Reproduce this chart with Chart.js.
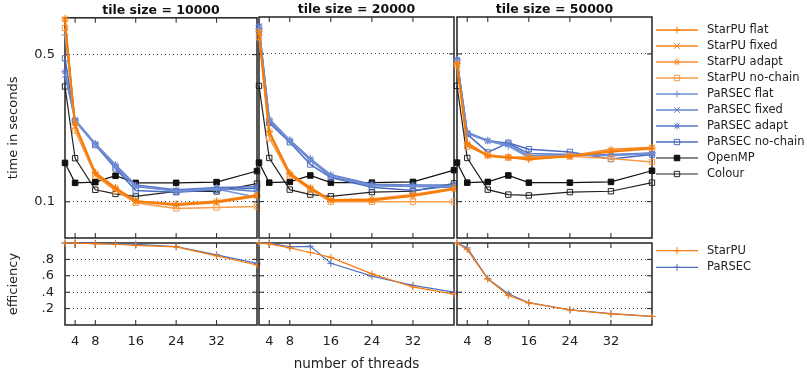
<!DOCTYPE html>
<html>
<head>
<meta charset="utf-8">
<script src="https://cdn.jsdelivr.net/npm/chart.js@4.4.0/dist/chart.umd.min.js"></script>
<style>
  body { margin: 0; background: #fff; }
  #wrap { position: relative; width: 807px; height: 377px; }
  #wrap canvas { position: absolute; left: 0; top: 0; }
</style>
</head>
<body>
<div id="wrap"></div>
<script>
// ---- data ----
const threads = [2, 4, 8, 12, 16, 24, 32, 40];
const tileSizes = ['10000', '20000', '50000'];
const xTicks = [4, 8, 16, 24, 32];
const timeTicks = [0.1, 0.5];
const timeTickLabels = ['0.1', '0.5'];
const effTicks = [0.2, 0.4, 0.6, 0.8];
const effTickLabels = ['.2', '.4', '.6', '.8'];

// time in seconds, one row per tile size
const starpuFlat = [
    [0.745, 0.232, 0.137, 0.116, 0.101, 0.097, 0.100, 0.107],
    [0.62, 0.214, 0.136, 0.116, 0.102, 0.102, 0.107, 0.115],
    [0.45, 0.190, 0.165, 0.162, 0.158, 0.164, 0.172, 0.178]
];
const starpuFixed = [
    [0.74, 0.228, 0.135, 0.115, 0.100, 0.096, 0.099, 0.106],
    [0.63, 0.210, 0.134, 0.115, 0.101, 0.101, 0.106, 0.114],
    [0.44, 0.185, 0.164, 0.161, 0.160, 0.163, 0.174, 0.180]
];
const starpuAdapt = [
    [0.73, 0.235, 0.138, 0.117, 0.101, 0.098, 0.101, 0.108],
    [0.64, 0.216, 0.137, 0.117, 0.102, 0.103, 0.108, 0.116],
    [0.45, 0.188, 0.166, 0.163, 0.161, 0.165, 0.177, 0.181]
];
const starpuNoChain = [
    [0.67, 0.218, 0.133, 0.113, 0.099, 0.093, 0.094, 0.095],
    [0.60, 0.200, 0.133, 0.114, 0.100, 0.100, 0.100, 0.100],
    [0.443, 0.182, 0.167, 0.162, 0.163, 0.164, 0.160, 0.154]
];
const parsecFlat = [
    [0.62, 0.244, 0.188, 0.148, 0.119, 0.112, 0.115, 0.105],
    [0.66, 0.244, 0.195, 0.159, 0.133, 0.120, 0.119, 0.118],
    [0.47, 0.212, 0.194, 0.183, 0.162, 0.167, 0.165, 0.170]
];
const parsecFixed = [
    [0.40, 0.243, 0.187, 0.146, 0.118, 0.113, 0.116, 0.112],
    [0.67, 0.240, 0.193, 0.157, 0.131, 0.119, 0.118, 0.117],
    [0.468, 0.210, 0.193, 0.186, 0.165, 0.166, 0.166, 0.168]
];
const parsecAdapt = [
    [0.415, 0.245, 0.189, 0.150, 0.120, 0.114, 0.117, 0.118],
    [0.68, 0.246, 0.196, 0.160, 0.134, 0.121, 0.120, 0.120],
    [0.47, 0.213, 0.195, 0.189, 0.169, 0.167, 0.167, 0.170]
];
const parsecNoChain = [
    [0.48, 0.242, 0.186, 0.144, 0.113, 0.111, 0.114, 0.116],
    [0.65, 0.236, 0.191, 0.150, 0.130, 0.117, 0.113, 0.119],
    [0.465, 0.209, 0.171, 0.190, 0.177, 0.172, 0.159, 0.167]
];
const openmp = [
    [0.153, 0.123, 0.124, 0.133, 0.123, 0.123, 0.124, 0.140],
    [0.153, 0.123, 0.124, 0.133, 0.123, 0.123, 0.124, 0.141],
    [0.153, 0.123, 0.124, 0.133, 0.123, 0.123, 0.124, 0.140]
];
const colour = [
    [0.353, 0.161, 0.114, 0.109, 0.106, 0.112, 0.112, 0.122],
    [0.353, 0.161, 0.114, 0.108, 0.106, 0.111, 0.112, 0.122],
    [0.353, 0.161, 0.114, 0.108, 0.107, 0.111, 0.112, 0.123]
];

// parallel efficiency
const effStarpu = [
    [1.0, 1.0, 0.99, 0.985, 0.972, 0.952, 0.844, 0.732],
    [1.0, 0.99, 0.94, 0.884, 0.824, 0.624, 0.464, 0.376],
    [1.0, 0.92, 0.56, 0.36, 0.27, 0.184, 0.136, 0.104]
];
const effParsec = [
    [1.0, 1.0, 0.995, 0.99, 0.985, 0.955, 0.856, 0.752],
    [1.0, 1.0, 0.952, 0.96, 0.752, 0.596, 0.484, 0.40],
    [1.0, 0.94, 0.565, 0.38, 0.272, 0.184, 0.138, 0.104]
];

// ---- styles ----
const FONT = 'DejaVu Sans';
Chart.defaults.font.family = FONT;
Chart.defaults.color = '#222';

const timeSeries = [
    { label: 'StarPU flat', data: starpuFlat, color: '#f57c00', style: 'cross', r: 3.5, fill: false, w: 1.5 },
    { label: 'StarPU fixed', data: starpuFixed, color: '#f5821a', style: 'crossRot', r: 4, fill: false, w: 1.5 },
    { label: 'StarPU adapt', data: starpuAdapt, color: '#f78d2f', style: 'star', r: 3.5, fill: false, w: 1.5 },
    { label: 'StarPU no-chain', data: starpuNoChain, color: '#f79b48', style: 'rect', r: 3.8, fill: false, w: 1.5 },
    { label: 'PaRSEC flat', data: parsecFlat, color: '#7290d4', style: 'cross', r: 3.5, fill: false, w: 1.5 },
    { label: 'PaRSEC fixed', data: parsecFixed, color: '#6585cf', style: 'crossRot', r: 4, fill: false, w: 1.5 },
    { label: 'PaRSEC adapt', data: parsecAdapt, color: '#5877c8', style: 'star', r: 3.5, fill: false, w: 1.5 },
    { label: 'PaRSEC no-chain', data: parsecNoChain, color: '#4a6bc2', style: 'rect', r: 3.8, fill: false, w: 1.5 },
    { label: 'OpenMP', data: openmp, color: '#111111', style: 'rect', r: 3.9, fill: true, w: 1.2 },
    { label: 'Colour', data: colour, color: '#222222', style: 'rect', r: 3.8, fill: false, w: 1.2 }
];
const effSeries = [
    { label: 'StarPU', data: effStarpu, color: '#f57c0f', style: 'cross', r: 3.5, fill: false, w: 1.2 },
    { label: 'PaRSEC', data: effParsec, color: '#5070c0', style: 'cross', r: 3.5, fill: false, w: 1.2 }
];

// ---- layout (pixel boxes of the six plot frames) ----
const W = 807, H = 377;
const colLeft = [65, 259, 457];
const colRight = [257, 454, 652];
const rows = [{ top: 17, bottom: 238 }, { top: 243, bottom: 325 }];

// frame around each panel plus gnuplot-like inner tick marks
const framePlugin = {
    id: 'frame',
    beforeDatasetsDraw(chart) {
        const { ctx, chartArea: a, scales } = chart;
        ctx.save();
        ctx.strokeStyle = '#222';
        ctx.lineWidth = 1;
        ctx.beginPath();
        xTicks.forEach(v => {
            const px = scales.x.getPixelForValue(v);
            ctx.moveTo(px, a.bottom); ctx.lineTo(px, a.bottom - 5);
            ctx.moveTo(px, a.top); ctx.lineTo(px, a.top + 5);
        });
        scales.y.ticks.forEach(t => {
            const py = scales.y.getPixelForValue(t.value);
            ctx.moveTo(a.left, py); ctx.lineTo(a.left + 5, py);
            ctx.moveTo(a.right, py); ctx.lineTo(a.right - 5, py);
        });
        ctx.stroke();
        ctx.lineWidth = 1.5;
        ctx.strokeRect(a.left, a.top, a.right - a.left, a.bottom - a.top);
        ctx.restore();
    }
};

// line-with-marker legend to the right of the last column
const sideLegend = {
    id: 'sideLegend',
    afterDraw(chart, args, opts) {
        if (!opts.show) return;
        const ctx = chart.ctx;
        ctx.save();
        chart.data.datasets.forEach((ds, i) => {
            const y = opts.top + i * opts.step;
            ctx.strokeStyle = ds.borderColor;
            ctx.lineWidth = ds.borderWidth;
            ctx.beginPath();
            ctx.moveTo(656, y);
            ctx.lineTo(698, y);
            ctx.stroke();
            ctx.fillStyle = ds.pointBackgroundColor;
            ctx.lineWidth = 1;
            Chart.helpers.drawPoint(ctx, { pointStyle: ds.pointStyle, radius: ds.pointRadius, borderWidth: 1, rotation: 0 }, 677, y);
            ctx.fillStyle = '#222';
            ctx.font = '11.5px "' + FONT + '"';
            ctx.textBaseline = 'middle';
            ctx.textAlign = 'left';
            ctx.fillText(ds.label, 707, y);
        });
        ctx.restore();
    }
};

function makeDatasets(series, col) {
    return series.map(s => ({
        label: s.label,
        data: threads.map((t, i) => ({ x: t, y: s.data[col][i] })),
        borderColor: s.color,
        backgroundColor: s.color,
        borderWidth: s.w,
        pointStyle: s.style,
        pointRadius: s.r,
        pointBorderWidth: 1,
        pointBorderColor: s.color,
        pointBackgroundColor: s.fill ? s.color : 'rgba(0,0,0,0)',
        tension: 0,
        clip: 8
    }));
}

const wrap = document.getElementById('wrap');

function makePanel(col, row) {
    const canvas = document.createElement('canvas');
    canvas.width = W;
    canvas.height = H;
    wrap.appendChild(canvas);

    const isTime = row === 0;
    const box = rows[row];
    const yw = col === 0 ? colLeft[0] : 0;
    const xh = isTime ? 0 : H - box.bottom;

    const yScale = isTime ? {
        type: 'logarithmic', min: 0.0673, max: 0.748,
        afterBuildTicks: s => { s.ticks = timeTicks.map(v => ({ value: v })); },
        ticks: { display: col === 0, padding: 10, font: { size: 13 }, callback: (v, i) => timeTickLabels[i] }
    } : {
        type: 'linear', min: 0, max: 1,
        afterBuildTicks: s => { s.ticks = effTicks.map(v => ({ value: v })); },
        ticks: { display: col === 0, padding: 11, font: { size: 13 }, callback: (v, i) => effTickLabels[i] }
    };
    Object.assign(yScale, {
        position: 'left',
        afterFit: s => { s.width = yw; },
        grid: { color: '#444', lineWidth: 1, drawTicks: false },
        border: { display: false, dash: [1, 3] },
        title: {
            display: col === 0,
            text: isTime ? 'time in seconds' : 'efficiency',
            font: { size: 13 },
            color: '#222',
            padding: { top: 6, bottom: 0 }
        }
    });

    const xScale = {
        type: 'linear', min: 2, max: 40, position: 'bottom',
        afterBuildTicks: s => { s.ticks = xTicks.map(v => ({ value: v })); },
        afterFit: s => { s.height = xh; },
        ticks: { display: !isTime, padding: 9, font: { size: 13 }, callback: v => String(v) },
        grid: { display: false, drawTicks: false },
        border: { display: false },
        title: {
            display: !isTime && col === 1,
            text: 'number of threads',
            font: { size: 13.5 },
            color: '#222',
            padding: { top: 0, bottom: 4 }
        }
    };

    new Chart(canvas, {
        type: 'line',
        data: { datasets: makeDatasets(isTime ? timeSeries : effSeries, col) },
        options: {
            responsive: false,
            animation: false,
            devicePixelRatio: 1,
            layout: {
                padding: {
                    left: colLeft[col] - yw,
                    right: W - colRight[col],
                    top: isTime ? 0 : box.top,
                    bottom: H - box.bottom - xh
                }
            },
            scales: { x: xScale, y: yScale },
            plugins: {
                legend: { display: false },
                tooltip: { enabled: false },
                title: {
                    display: isTime,
                    text: 'tile size = ' + tileSizes[col],
                    fullSize: false,
                    color: '#111',
                    font: { size: 12.5, weight: 'bold' },
                    padding: { top: 2, bottom: 0 }
                },
                sideLegend: isTime ? { show: col === 2, top: 30, step: 16 } : { show: col === 2, top: 250.7, step: 16.6 }
            }
        },
        plugins: [framePlugin, sideLegend]
    });
}

for (let row = 0; row < 2; row++) {
    for (let col = 0; col < 3; col++) {
        makePanel(col, row);
    }
}
</script>
</body>
</html>
